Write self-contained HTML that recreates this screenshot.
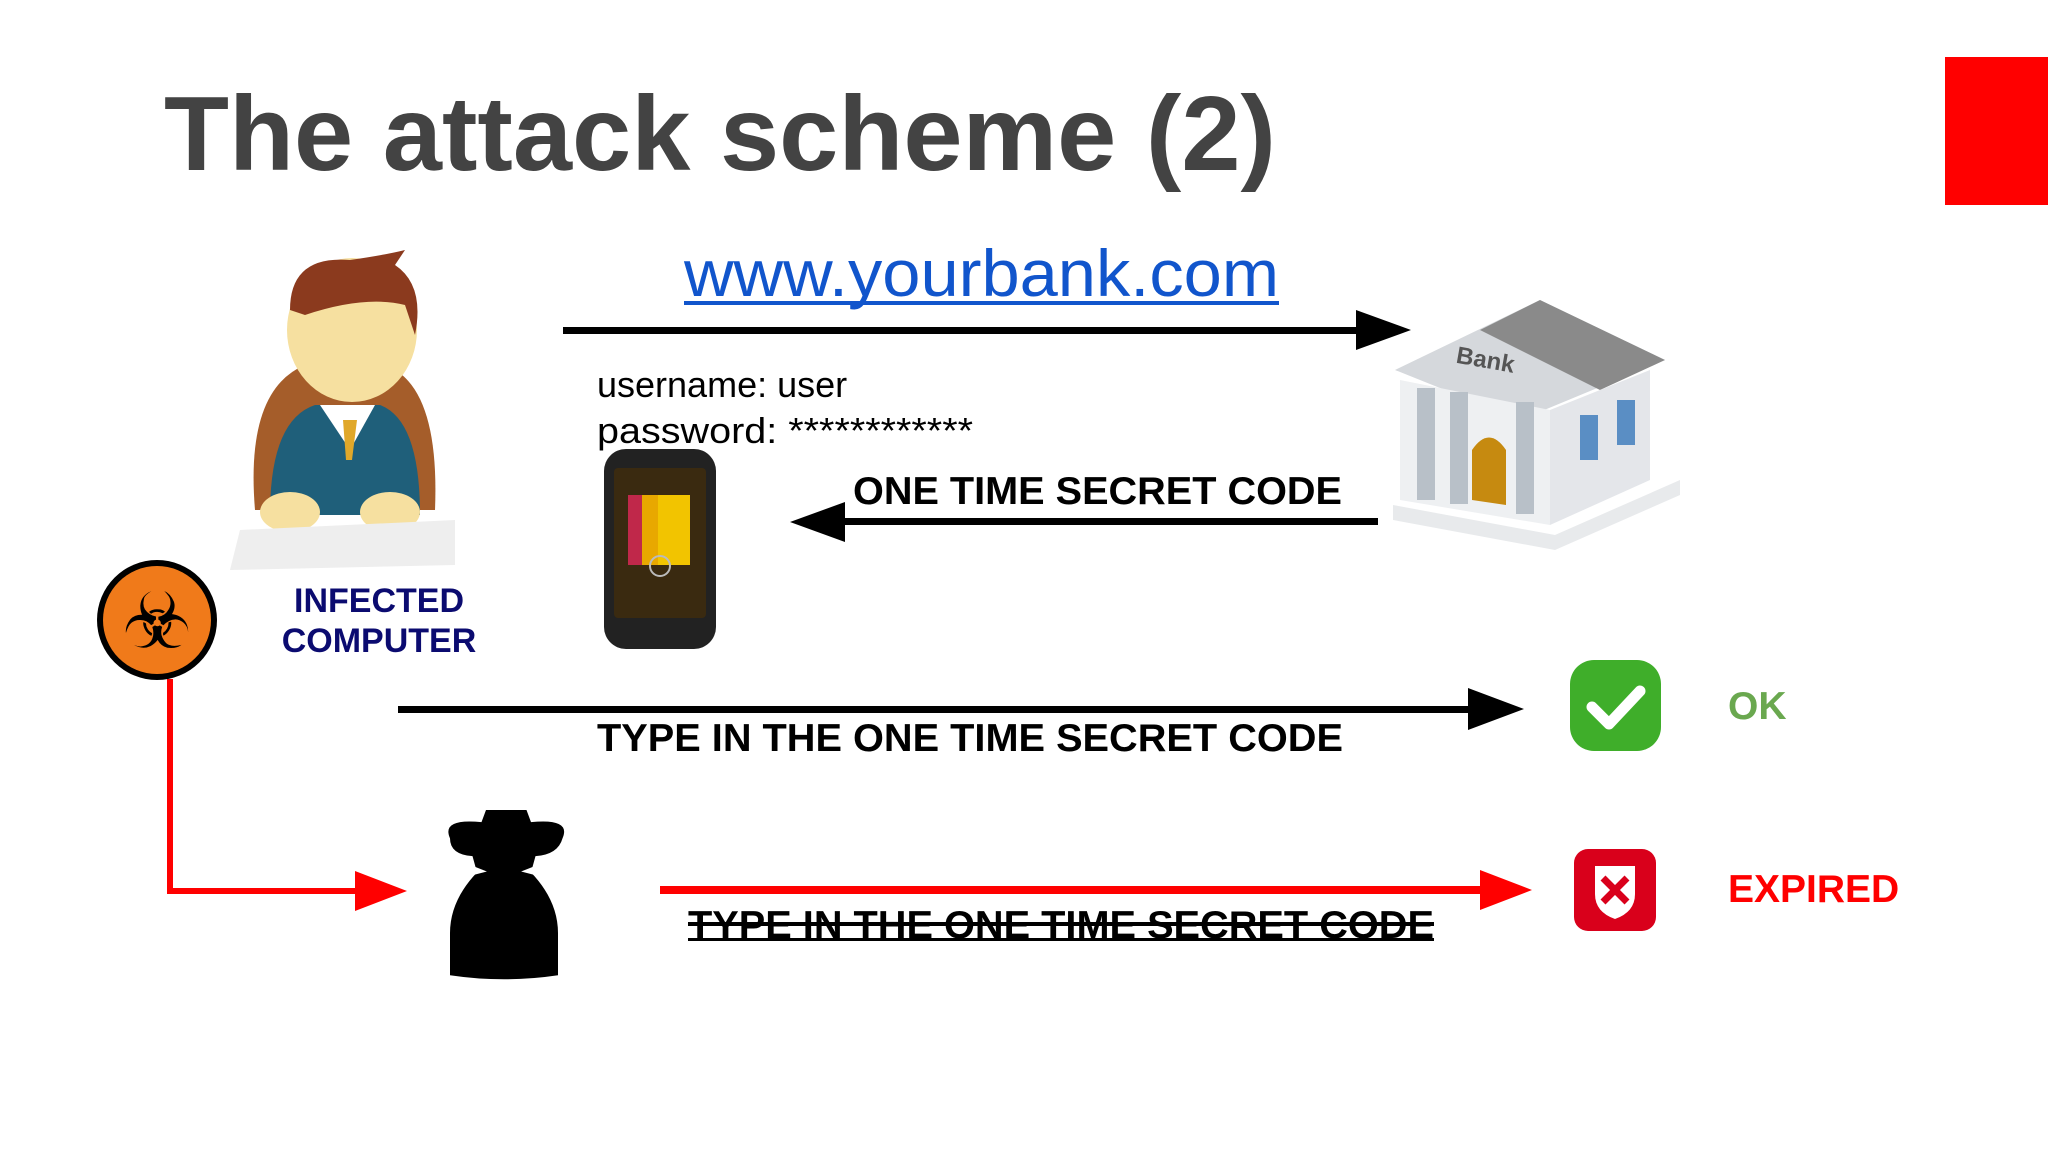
<!DOCTYPE html>
<html><head><meta charset="utf-8"><style>
html,body{margin:0;padding:0;background:#fff;width:2048px;height:1152px;overflow:hidden}
svg{display:block}
</style></head><body>
<svg width="2048" height="1152" viewBox="0 0 2048 1152" xmlns="http://www.w3.org/2000/svg" font-family="Liberation Sans, sans-serif">
<rect width="2048" height="1152" fill="#fff"/>
<rect x="1945" y="57" width="103" height="148" fill="#ff0000"/>
<text x="164" y="170" font-size="106" font-weight="bold" fill="#434343" textLength="1112" lengthAdjust="spacingAndGlyphs">The attack scheme (2)</text>
<!-- URL -->
<text x="684" y="296" font-size="66" fill="#1155cc" textLength="595" lengthAdjust="spacingAndGlyphs">www.yourbank.com</text>
<rect x="684" y="301" width="595" height="4" fill="#1155cc"/>
<!-- arrow 1 -->
<rect x="563" y="327" width="800" height="7" fill="#000"/>
<polygon points="1356,310 1411,330 1356,350" fill="#000"/>
<text x="597" y="397" font-size="36" fill="#000">username: user</text>
<text x="597" y="443" font-size="36" fill="#000" textLength="376" lengthAdjust="spacingAndGlyphs">password: ************</text>
<!-- phone -->
<rect x="604" y="449" width="112" height="200" rx="22" fill="#222"/>
<rect x="614" y="468" width="92" height="150" rx="4" fill="#3a2a10"/>
<rect x="628" y="495" width="14" height="70" fill="#c0284a"/>
<rect x="642" y="495" width="16" height="70" fill="#e8a800"/>
<rect x="658" y="495" width="32" height="70" fill="#f2c400"/>
<circle cx="660" cy="566" r="10" fill="none" stroke="#bbb" stroke-width="2"/>
<!-- arrow 2 -->
<rect x="840" y="518" width="538" height="7" fill="#000"/>
<polygon points="845,502 790,522 845,542" fill="#000"/>
<text x="853" y="504" font-size="39" font-weight="bold" fill="#000" textLength="489" lengthAdjust="spacingAndGlyphs">ONE TIME SECRET CODE</text>
<!-- bank -->
<polygon points="1395,370 1540,300 1665,360 1520,420" fill="#d5d8dc"/>
<polygon points="1540,300 1665,360 1600,390 1480,330" fill="#8a8a8a"/>
<text x="1456" y="366" font-size="24" font-weight="bold" fill="#555" transform="rotate(10 1475 360)">Bank</text>
<polygon points="1400,380 1550,410 1550,525 1400,500" fill="#eef0f2"/>
<polygon points="1550,410 1650,370 1650,480 1550,525" fill="#e4e6ea"/>
<rect x="1417" y="388" width="18" height="112" fill="#b8c0c8"/>
<rect x="1450" y="392" width="18" height="112" fill="#b8c0c8"/>
<rect x="1516" y="402" width="18" height="112" fill="#b8c0c8"/>
<path d="M1472,500 v-50 q17,-25 34,0 v55 z" fill="#c68a10"/>
<rect x="1580" y="415" width="18" height="45" fill="#5a8ec4"/>
<rect x="1617" y="400" width="18" height="45" fill="#5a8ec4"/>
<polygon points="1393,505 1555,535 1680,480 1680,495 1555,550 1393,520" fill="#e8eaec"/>
<!-- person -->
<path d="M255,510 q-10,-120 50,-145 h80 q55,20 50,145 z" fill="#a55d2a"/>
<path d="M270,515 q0,-95 45,-110 h65 q40,15 40,110 z" fill="#1f5f7a"/>
<polygon points="320,405 350,450 375,405" fill="#fff"/>
<polygon points="343,420 357,420 352,460 346,460" fill="#e0a82a"/>
<ellipse cx="352" cy="330" rx="65" ry="72" fill="#f6e0a0"/>
<path d="M290,310 q0,-55 60,-50 q35,-5 55,-10 l-10,15 q30,20 20,70 l-10,-30 q-40,-10 -100,10 z" fill="#8b3a1e"/>
<ellipse cx="290" cy="512" rx="30" ry="20" fill="#f6e0a0"/>
<ellipse cx="390" cy="512" rx="30" ry="20" fill="#f6e0a0"/>
<polygon points="240,530 455,520 455,565 230,570" fill="#eeeeee"/>
<!-- biohazard -->
<circle cx="157" cy="620" r="60" fill="#000"/>
<circle cx="157" cy="620" r="54" fill="#f07a1a"/>
<text x="157" y="648" font-size="78" text-anchor="middle" fill="#000">☣</text>
<text x="379" y="612" font-size="34" font-weight="bold" fill="#0b0b70" text-anchor="middle">INFECTED</text>
<text x="379" y="652" font-size="34" font-weight="bold" fill="#0b0b70" text-anchor="middle">COMPUTER</text>
<!-- arrow 3 -->
<rect x="398" y="706" width="1075" height="7" fill="#000"/>
<polygon points="1468,688 1524,709 1468,730" fill="#000"/>
<text x="597" y="751" font-size="39" font-weight="bold" fill="#000" textLength="746" lengthAdjust="spacingAndGlyphs">TYPE IN THE ONE TIME SECRET CODE</text>
<rect x="1570" y="660" width="91" height="91" rx="24" fill="#3fae2a"/>
<path d="M1592,707 l17,17 l31,-33" fill="none" stroke="#fff" stroke-width="11" stroke-linecap="round" stroke-linejoin="round"/>
<text x="1728" y="719" font-size="39" font-weight="bold" fill="#6aa84f">OK</text>
<!-- red L -->
<polyline points="170,679 170,891 360,891" fill="none" stroke="#ff0000" stroke-width="6"/>
<polygon points="355,871 407,891 355,911" fill="#ff0000"/>
<!-- spy -->
<g transform="translate(495,810) scale(0.9,0.81) translate(-495,-770)">
<path d="M445,805 q-10,-25 35,-20 l5,-15 h45 l5,15 q45,-5 35,20 q-5,20 -30,22 l-5,20 q30,35 30,75 v52 q-60,10 -120,0 v-52 q0,-40 30,-75 l-5,-20 q-25,-2 -25,-22 z" fill="#000"/>
<path d="M468,838 l18,8 l-14,4 z M542,838 l-18,8 l14,4 z" fill="#fff"/>
</g>
<!-- red arrow -->
<rect x="660" y="886" width="825" height="8" fill="#ff0000"/>
<polygon points="1480,870 1532,890 1480,910" fill="#ff0000"/>
<text x="688" y="938" font-size="39" font-weight="bold" fill="#000" textLength="746" lengthAdjust="spacingAndGlyphs">TYPE IN THE ONE TIME SECRET CODE</text>
<rect x="688" y="922" width="746" height="4" fill="#000"/>
<rect x="688" y="938" width="746" height="3" fill="#000"/>
<rect x="1574" y="849" width="82" height="82" rx="14" fill="#d9001b"/>
<path d="M1595,866 h40 v28 q0,18 -20,25 q-20,-7 -20,-25 z" fill="#fff"/>
<path d="M1603,878 l24,24 M1627,878 l-24,24" stroke="#d9001b" stroke-width="7"/>
<text x="1728" y="902" font-size="39" font-weight="bold" fill="#ff0000">EXPIRED</text>
</svg>
</body></html>
